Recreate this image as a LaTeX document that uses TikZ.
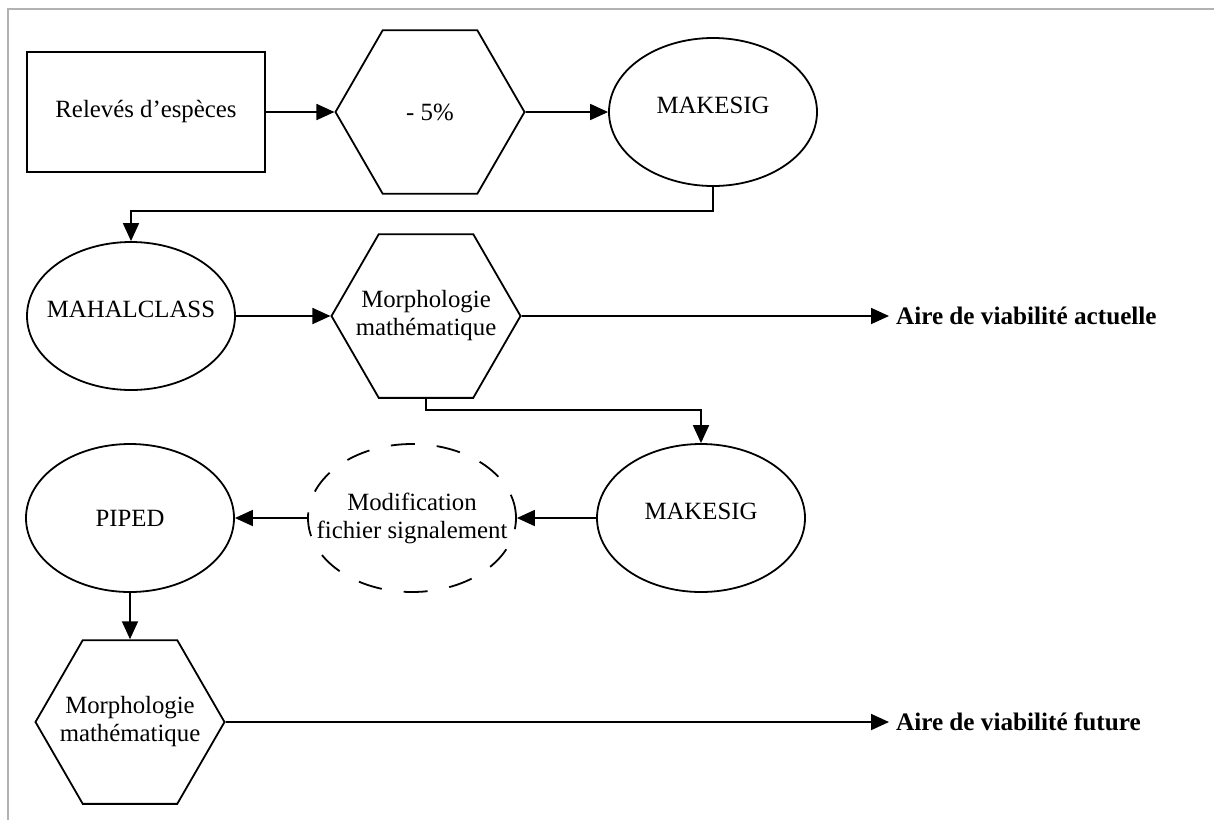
\documentclass[tikz,border=0pt]{standalone}
\usepackage{fontspec}
\setmainfont{Liberation Serif}
\usetikzlibrary{shapes.geometric,arrows.meta}

\begin{document}
\begin{tikzpicture}[x=0.5pt,y=-0.5pt,
  every node/.style={font=\fontsize{12.4}{14}\selectfont},
  box/.style={draw,line width=0.9pt,rectangle,minimum width=119pt,minimum height=60pt},
  hexa/.style={draw,line width=0.9pt,regular polygon,regular polygon sides=6,minimum size=94.5pt,inner sep=-12pt,align=center},
  oval/.style={draw,line width=0.9pt,ellipse,minimum width=104pt,minimum height=74pt,inner sep=-12pt,align=center},
  raised/.style={text depth=7pt},
  flow/.style={line width=0.9pt,-{Triangle[length=9pt,width=8pt]}},
  result/.style={anchor=west,font=\fontsize{12.6}{14}\selectfont\bfseries}]
\useasboundingbox (0,0) rectangle (1214,820);
\draw[gray!60,line width=0.6pt] (8,820) -- (8,9) -- (1214,9);
% first row
\node[box] (rel) at (146,112) {Relevés d’espèces};
\node[hexa] (cut) at (430,112) {- 5\%};
\node[oval,raised] (sig1) at (713,112) {MAKESIG};
% second row
\node[oval,raised] (mahal) at (131,316) {MAHALCLASS};
\node[hexa] (morph1) at (426,316) {Morphologie\\mathématique};
\node[result] (now) at (889,316) {Aire de viabilité actuelle};
% third row
\node[oval,raised] (sig2) at (701,518) {MAKESIG};
\node[oval,dash pattern=on 12pt off 11pt] (modif) at (412,518) {Modification\\fichier signalement};
\node[oval] (piped) at (130,518) {PIPED};
% last row
\node[hexa] (morph2) at (130,722) {Morphologie\\mathématique};
\node[result] (future) at (889,722) {Aire de viabilité future};
% connectors
\draw[flow] (rel) -- (cut);
\draw[flow] (cut) -- (sig1);
\draw[flow] (sig1.south) -- ++(0,24) -| (mahal.north);
\draw[flow] (mahal) -- (morph1);
\draw[flow] (morph1) -- (now);
\draw[flow] (morph1.south) -- ++(0,11) -| (sig2.north);
\draw[flow] (sig2) -- (modif);
\draw[flow] (modif) -- (piped);
\draw[flow] (piped) -- (morph2);
\draw[flow] (morph2) -- (future);
\end{tikzpicture}
\end{document}
